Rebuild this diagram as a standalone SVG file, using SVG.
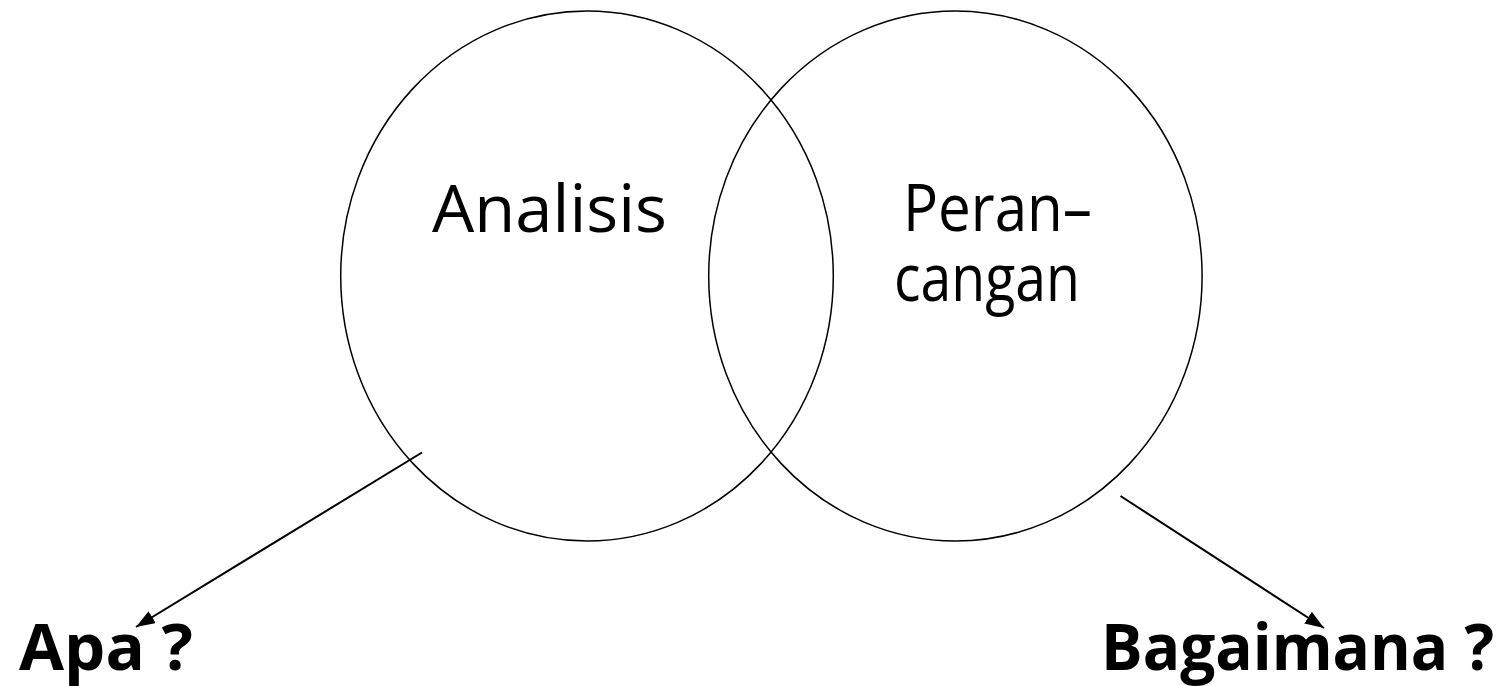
<svg xmlns="http://www.w3.org/2000/svg" width="1509" height="686" viewBox="0 0 1509 686">
<style>
.circle{fill:none;stroke:#000;stroke-width:1.5}
.conn{stroke:#000;stroke-width:2;fill:none}
.lbl{font-family:"Open Sans","Noto Sans","DejaVu Sans",sans-serif;font-size:65px;fill:#000}
.bold{font-weight:bold;font-size:64px}
</style>
<defs>
<marker id="arr" markerUnits="userSpaceOnUse" markerWidth="20" markerHeight="14" refX="19" refY="7" orient="auto">
<path d="M0,0 L19,7 L0,14 Z" fill="#000"/>
</marker>
</defs>
<rect width="1509" height="686" fill="#fff"/>
<g id="node-analisis">
<ellipse class="circle" cx="587" cy="276" rx="246.3" ry="265"/>
<text class="lbl" x="432" y="232" textLength="235" lengthAdjust="spacingAndGlyphs">Analisis</text>
</g>
<g id="node-perancangan">
<ellipse class="circle" cx="955.4" cy="276" rx="246.7" ry="265"/>
<text class="lbl"><tspan x="903" y="231" textLength="189" lengthAdjust="spacingAndGlyphs">Peran–</tspan><tspan x="894" y="301" textLength="186" lengthAdjust="spacingAndGlyphs">cangan</tspan></text>
</g>
<g id="node-apa">
<text class="lbl bold" x="19" y="670" textLength="174" lengthAdjust="spacingAndGlyphs">Apa ?</text>
</g>
<g id="node-bagaimana">
<text class="lbl bold" x="1101" y="670" textLength="393" lengthAdjust="spacingAndGlyphs">Bagaimana ?</text>
</g>
<g id="connectors">
<line class="conn" x1="422" y1="452.5" x2="136" y2="627" marker-end="url(#arr)"/>
<line class="conn" x1="1120.5" y1="496" x2="1324" y2="628" marker-end="url(#arr)"/>
</g>
</svg>
